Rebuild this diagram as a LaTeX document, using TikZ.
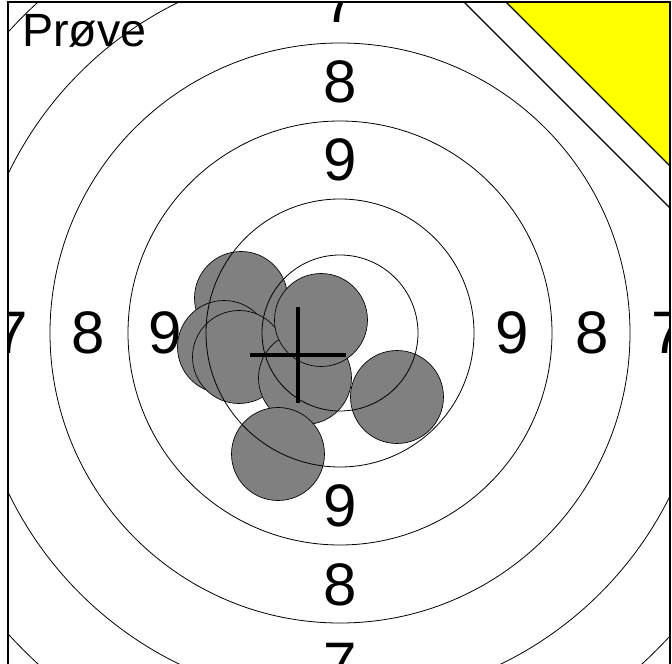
\documentclass[tikz,border=0pt]{standalone}
\usepackage{fontspec}
\setmainfont{Liberation Sans}
\usepackage{tikz}
\usetikzlibrary{positioning}
\usepackage{xcolor}
\definecolor{shotgrey}  {RGB}{128,128,128}
\definecolor{markyellow}{RGB}{255,255,  0}

\begin{document}
\begin{tikzpicture}[
    x=0.75pt, y=-0.75pt,
    ring/.style={draw=black, line width=0.6pt},
    shot/.style={circle, draw=black, line width=0.5pt, fill=shotgrey, minimum size=69.75pt, inner sep=0pt},
    score/.style={font=\fontsize{45}{45}\selectfont, inner sep=0pt},
    mpi/.style={line width=3pt}
]
    \useasboundingbox (0,0) rectangle (672,664);
    \fill[white] (0,0) rectangle (672,664);

    \begin{scope}
    \clip (8,2) rectangle (670,680);

    % Shots
    \node[shot] (s1) at (241,298) {};
    \node[shot] (s6) at (224,347) {};
    \node[shot] (s7) at (239,357) {};
    \node[shot] (s3) at (305,378) {};
    \node[shot] (s2) at (321,320) {};
    \node[shot] (s4) at (397,397) {};
    \node[shot] (s5) at (278,454) {};

    % Rings
    \coordinate (c) at (340,333);
    \draw[ring] (c) circle[radius=78];
    \draw[ring] (c) circle[radius=134];
    \draw[ring] (c) circle[radius=212];
    \draw[ring] (c) circle[radius=290];
    \draw[ring] (c) circle[radius=368];
    \draw[ring] (c) circle[radius=448];

    % Ring numbers
    \node[score] (n9t) at (340,160) {9};
    \node[score] (n8t) at (340,82)  {8};
    \node[score] (n7t) at (340,2)   {7};
    \node[score] (n9b) at (340,506) {9};
    \node[score] (n8b) at (340,585) {8};
    \node[score] (n7b) at (340,664) {7};
    \node[score] (n9l) at (165,333) {9};
    \node[score] (n8l) at (88,333)  {8};
    \node[score] (n7l) at (11,333)  {7};
    \node[score] (n9r) at (512,333) {9};
    \node[score] (n8r) at (592,333) {8};
    \node[score] (n7r) at (668,333) {7};

    % Mean point of impact
    \coordinate (m) at (298,355);
    \draw[mpi] ([xshift=-36pt]m) -- ([xshift=36pt]m);
    \draw[mpi] ([yshift=-36pt]m) -- ([yshift=36pt]m);

    % Sighter corner
    \fill[white] (464,2) -- (670,2) -- (670,208) -- cycle;
    \draw[line width=0.8pt] (464,2) -- (670,208);
    \fill[markyellow] (506,2) -- (670,2) -- (670,166) -- cycle;
    \draw[line width=0.8pt] (506,2) -- (670,166);

    \node[score, font=\fontsize{35}{35}\selectfont, anchor=base west] (title) at (22,46) {Prøve};
    \end{scope}

    % Frame
    \draw[line width=0.9pt] (8,680) -- (8,2) -- (670,2) -- (670,680);
\end{tikzpicture}
\end{document}
